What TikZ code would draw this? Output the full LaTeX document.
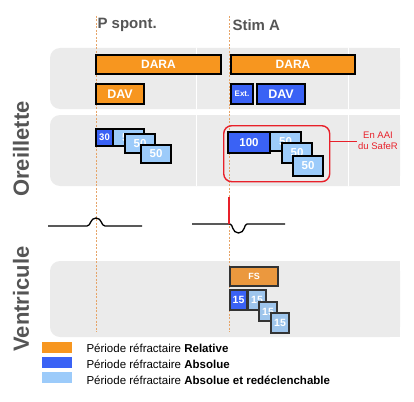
\documentclass[tikz,border=0pt]{standalone}
\usepackage{fontspec}
\setmainfont{Liberation Sans}
\definecolor{bandgray}{HTML}{EBEBEB}
\definecolor{dorange}{HTML}{F7961F}
\definecolor{fsorange}{HTML}{EB983E}
\definecolor{dblue}{HTML}{3A62F5}
\definecolor{lblue}{HTML}{9CCBFA}
\definecolor{vlblue}{HTML}{9EC5EC}
\definecolor{labgray}{HTML}{555555}
\definecolor{dashor}{HTML}{E6A468}
\definecolor{sred}{HTML}{E8202A}
\begin{document}
\begin{tikzpicture}[x=1pt,y=-1pt,
  pbox/.style={draw=black,line width=1.8pt,inner sep=0pt,outer sep=0pt,anchor=north west,text=white,font=\bfseries},
  vbox/.style={pbox,draw=black!80},
  band/.style={fill=bandgray,rounded corners=10pt},
  sidelab/.style={rotate=90,text=labgray,font=\fontsize{22}{24}\selectfont\bfseries},
  toplab/.style={anchor=west,text=labgray,font=\fontsize{15}{17}\selectfont\bfseries},
  legtxt/.style={anchor=west,font=\fontsize{11.5}{13}\selectfont},
  ecg/.style={line width=1.3pt,black}]
\useasboundingbox (0,0) rectangle (414,401);
% bands
\fill[band] (50,48) rectangle (400,109);
\fill[band] (50,115) rectangle (400,186);
\fill[band] (50,261) rectangle (400,337);
\fill[bandgray] (385,48) rectangle (400,109);
\fill[bandgray] (385,115) rectangle (400,186);
\fill[bandgray] (385,261) rectangle (400,337);
\draw[white,line width=0.8pt] (196,48) -- (196,109) (348,48) -- (348,109);
\draw[white,line width=0.8pt] (196,115) -- (196,186) (348,115) -- (348,186);
% dashed markers
\coordinate (d1t) at (96,16); \coordinate (d1b) at (96,332);
\coordinate (d2t) at (229,16); \coordinate (d2b) at (229,332);
\draw[dashor,dashed,dash pattern=on 2pt off 1.5pt,line width=0.7pt] (d1t) -- (d1b) (d2t) -- (d2b);
% top labels
\node[toplab] (lp) at (94,25) {P spont.};
\node[toplab] (ls) at (229,25) {Stim A};
% side labels
\node[sidelab] (lor) at (21,149) {Oreillette};
\node[sidelab] (lve) at (21,299) {Ventricule};
% band 1
\node[pbox,fill=dorange,minimum width=125pt,minimum height=19pt,font=\fontsize{12}{13}\selectfont\bfseries] (dara1) at (96,55) {DARA};
\node[pbox,fill=dorange,minimum width=124pt,minimum height=19pt,font=\fontsize{12}{13}\selectfont\bfseries] (dara2) at (231,55) {DARA};
\node[pbox,fill=dorange,minimum width=48pt,minimum height=20pt,font=\fontsize{12.5}{13}\selectfont\bfseries] (dav1) at (96,84) {DAV};
\node[pbox,fill=dblue,minimum width=22pt,minimum height=20pt,font=\fontsize{8}{9}\selectfont\bfseries] (ext) at (231,84) {Ext.};
\node[pbox,fill=dblue,minimum width=48pt,minimum height=20pt,font=\fontsize{12.5}{13}\selectfont\bfseries] (dav2) at (257,84) {DAV};
% band 2 left
\node[pbox,fill=dblue,minimum width=17pt,minimum height=17pt,font=\fontsize{9.5}{10}\selectfont\bfseries] (a30) at (96,129) {30};
\node[pbox,fill=lblue,minimum width=31pt,minimum height=17pt,font=\fontsize{11.5}{12}\selectfont\bfseries] (a50a) at (113,129) {50};
\node[pbox,fill=lblue,minimum width=30pt,minimum height=19pt,font=\fontsize{11.5}{12}\selectfont\bfseries] (a50b) at (125,134) {50};
\node[pbox,fill=lblue,minimum width=30pt,minimum height=18pt,font=\fontsize{11.5}{12}\selectfont\bfseries] (a50c) at (141,145) {50};
% band 2 right
\node[pbox,fill=dblue,minimum width=42pt,minimum height=21pt,font=\fontsize{11.5}{12}\selectfont\bfseries] (a100) at (228,132) {100};
\node[pbox,fill=lblue,minimum width=31pt,minimum height=19pt,font=\fontsize{11.5}{12}\selectfont\bfseries] (b50a) at (270,132) {50};
\node[pbox,fill=lblue,minimum width=30pt,minimum height=20pt,font=\fontsize{11.5}{12}\selectfont\bfseries] (b50b) at (282,143) {50};
\node[pbox,fill=lblue,minimum width=30pt,minimum height=20pt,font=\fontsize{11.5}{12}\selectfont\bfseries] (b50c) at (293,156) {50};
\node[draw=sred,line width=1.4pt,rounded corners=8pt,minimum width=106pt,minimum height=56pt,anchor=north west,inner sep=0pt] (safer) at (223,125) {};
\coordinate (sl) at (357,141);
\draw[sred,line width=0.8pt] (safer.east |- sl) -- (sl);
\node[text=sred,align=center,font=\fontsize{9.5}{10.5}\selectfont,anchor=center,inner sep=0pt] (aai) at (378,141) {En AAI\\du SafeR};
% ECG
\coordinate (e1a) at (48,226); \coordinate (e1b) at (142,226);
\draw[ecg] (e1a) -- (87,226) .. controls (91,226) and (90,218) .. (96,218) .. controls (102,218) and (101,226) .. (105,226) -- (e1b);
\coordinate (e2a) at (192,224); \coordinate (e2b) at (285,224);
\draw[ecg] (e2a) -- (230,224) .. controls (233,224) and (232,233) .. (238.5,233) .. controls (245,233) and (244,224) .. (247,224) -- (e2b);
\coordinate (r1) at (229,197); \coordinate (r2) at (229,224);
\draw[sred,line width=1.5pt] (r1) -- (r2);
% ventricle
\node[vbox,fill=fsorange,minimum width=48pt,minimum height=19pt,font=\fontsize{9}{10}\selectfont\bfseries] (fs) at (230,267) {FS};
\node[vbox,fill=dblue,minimum width=17pt,minimum height=20pt,font=\fontsize{10.5}{11}\selectfont\bfseries] (v15) at (230,290) {15};
\node[vbox,fill=vlblue,minimum width=18pt,minimum height=20pt,font=\fontsize{10.5}{11}\selectfont\bfseries] (w15a) at (248,290) {15};
\node[vbox,fill=vlblue,minimum width=18pt,minimum height=19pt,font=\fontsize{10.5}{11}\selectfont\bfseries] (w15b) at (259,302) {15};
\node[vbox,fill=vlblue,minimum width=18pt,minimum height=20pt,font=\fontsize{10.5}{11}\selectfont\bfseries] (w15c) at (271,313) {15};
% legend
\fill[dorange] (42,342) rectangle (72,353);
\fill[dblue] (42,357) rectangle (72,368);
\fill[lblue] (42,372) rectangle (72,383);
\node[legtxt] (t1) at (83,348) {Période réfractaire \textbf{Relative}};
\node[legtxt] (t2) at (83,364) {Période réfractaire \textbf{Absolue}};
\node[legtxt] (t3) at (83,380) {Période réfractaire \textbf{Absolue et redéclenchable}};
\end{tikzpicture}
\end{document}
